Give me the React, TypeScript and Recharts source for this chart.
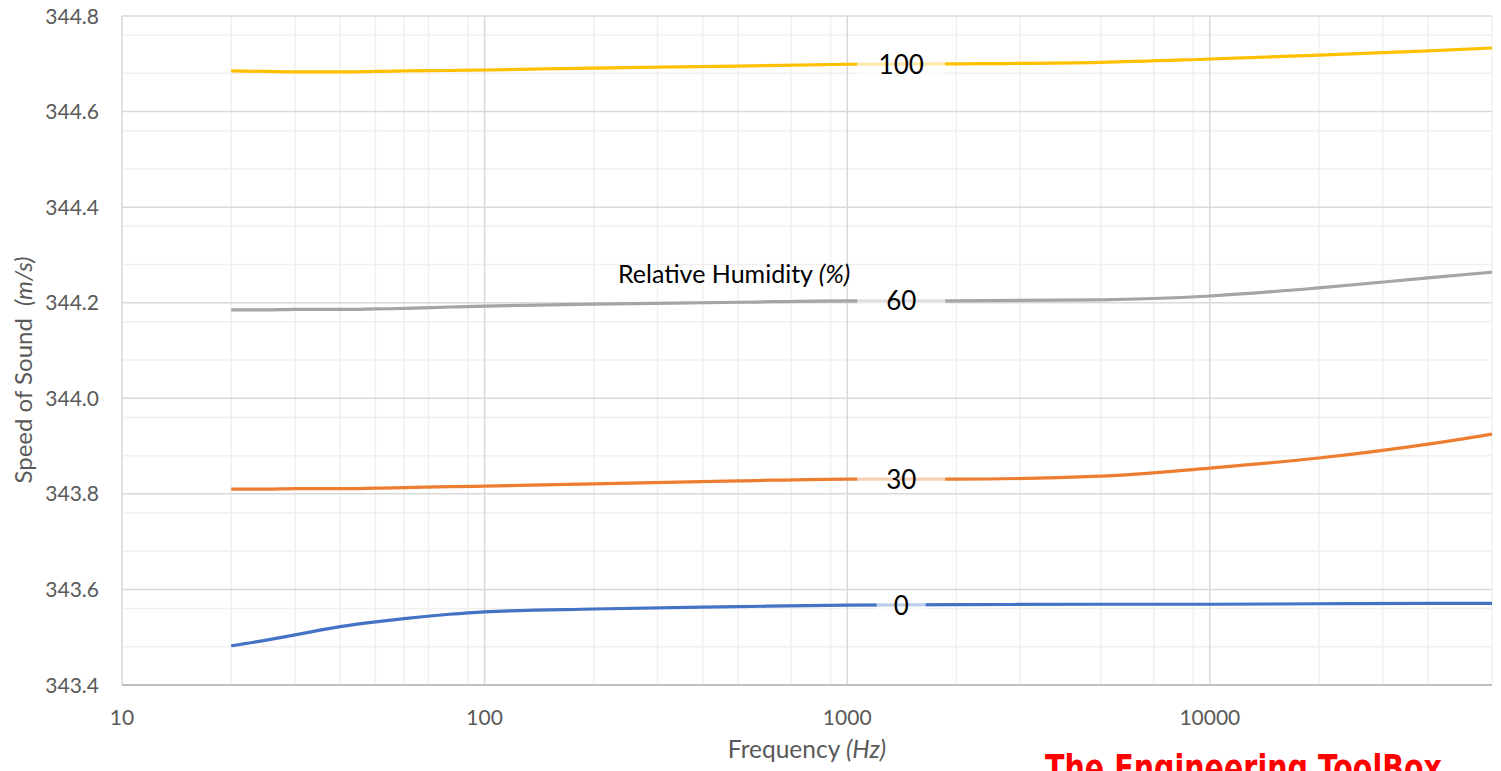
import { LineChart, Line, XAxis, YAxis, CartesianGrid } from 'recharts';

// Frequency (Hz) and speed of sound (m/s)
const freqs = [20, 25, 30, 40, 50, 60, 80, 100, 200, 500, 1000, 2000, 5000, 10000, 20000, 40000, 60000];
const rh0 = [343.482, 343.494, 343.505, 343.522, 343.532, 343.539, 343.548, 343.553, 343.559, 343.564, 343.567, 343.568, 343.569, 343.569, 343.57, 343.571, 343.571];
const rh30 = [343.81, 343.81, 343.811, 343.811, 343.812, 343.813, 343.815, 343.816, 343.821, 343.827, 343.831, 343.831, 343.837, 343.854, 343.875, 343.904, 343.925];
const rh60 = [344.185, 344.185, 344.186, 344.186, 344.187, 344.188, 344.191, 344.193, 344.197, 344.201, 344.204, 344.204, 344.206, 344.214, 344.231, 344.252, 344.264];
const rh100 = [344.685, 344.684, 344.683, 344.683, 344.684, 344.685, 344.686, 344.687, 344.691, 344.695, 344.699, 344.7, 344.703, 344.71, 344.718, 344.727, 344.733];

const xTicks = [10, 100, 1000, 10000];
const yTicks = [343.4, 343.6, 343.8, 344.0, 344.2, 344.4, 344.6, 344.8];
const labelFreq = 1000;

const data = freqs.map((f, i) => ({ f, rh0: rh0[i], rh30: rh30[i], rh60: rh60[i], rh100: rh100[i] }));

// minor grid values
const xMinor: number[] = [];
xTicks.forEach((d) => {
  for (let k = 2; k <= 9; k++) if (d * k <= 60000) xMinor.push(d * k);
});
const yMinor: number[] = [];
for (let i = 0; i < yTicks.length - 1; i++) {
  for (let k = 1; k < 5; k++) yMinor.push(+(yTicks[i] + k * 0.04).toFixed(2));
}

const FONT = 'Lato, "Open Sans", sans-serif';
const labelIndex = freqs.indexOf(labelFreq);

function XTick({ x, y, payload }: any) {
  return (
    <text x={x} y={y + 40} textAnchor="middle" fontSize={21} fill="#595959" fontFamily={FONT}>
      {payload.value}
    </text>
  );
}

function YTick({ x, y, payload }: any) {
  return (
    <text x={x - 23} y={y + 7.5} textAnchor="end" fontSize={21} fill="#595959" fontFamily={FONT}>
      {Number(payload.value).toFixed(1)}
    </text>
  );
}

function SeriesLabel({ x, y, index, text }: any) {
  if (index !== labelIndex) return null;
  const w = text.length > 1 ? 88 : 49;
  const cx = x + 54;
  return (
    <g>
      <rect x={cx - w / 2} y={y - 11} width={w} height={22} fill="#fff" fillOpacity={0.65} />
      <text x={cx} y={y + 9.5} textAnchor="middle" fontSize={26} fill="#000" fontFamily={FONT}>
        {text}
      </text>
    </g>
  );
}

export default function App() {
  return (
    <div style={{ width: 1501, height: 771, overflow: 'hidden', background: '#fff' }}>
      <style>{'body{margin:0}'}</style>
      <LineChart width={1501} height={771} data={data} margin={{ top: 16, right: 9, bottom: 0, left: 0 }}>
        <CartesianGrid stroke="#f0f0f0" strokeWidth={1.5} verticalValues={xMinor} horizontalValues={yMinor} />
        <CartesianGrid stroke="#d9d9d9" strokeWidth={1.5} verticalValues={xTicks} horizontalValues={yTicks} />
        <XAxis
          type="number"
          dataKey="f"
          scale="log"
          domain={[10, 60000]}
          ticks={xTicks}
          allowDataOverflow
          height={86}
          tickLine={false}
          tickSize={0}
          tickMargin={0}
          axisLine={{ stroke: '#bfbfbf', strokeWidth: 2 }}
          tick={<XTick />}
          label={({ viewBox }: any) => (
            <g fontFamily={FONT}>
              <text x={viewBox.x + viewBox.width / 2} y={viewBox.y + 73} textAnchor="middle" fontSize={24.5} fill="#595959">
                Frequency <tspan fontStyle="italic">(Hz)</tspan>
              </text>
              <text
                x={1045}
                y={781}
                fontSize={38}
                fontWeight="bold"
                fill="#ff0000"
                fontFamily='"DejaVu Sans Condensed", "DejaVu Sans", sans-serif'
                textLength={397}
                lengthAdjust="spacingAndGlyphs"
              >
                The Engineering ToolBox
              </text>
            </g>
          )}
        />
        <YAxis
          type="number"
          domain={[343.4, 344.8]}
          ticks={yTicks}
          width={122}
          axisLine={false}
          tickLine={false}
          tickSize={0}
          tickMargin={0}
          tick={<YTick />}
          label={() => (
            <g fontFamily={FONT}>
              <text x={32} y={370} transform="rotate(-90 32 370)" textAnchor="middle" fontSize={24} fill="#595959">
                Speed of Sound <tspan dx={6} fontStyle="italic">(m/s)</tspan>
              </text>
              <text x={618} y={283} fontSize={25} fill="#000">
                Relative Humidity <tspan fontStyle="italic">(%)</tspan>
              </text>
            </g>
          )}
        />
        <Line type="monotone" dataKey="rh0" stroke="#4472C4" strokeWidth={3.2} dot={false} isAnimationActive={false} label={<SeriesLabel text="0" />} />
        <Line type="monotone" dataKey="rh30" stroke="#ED7D31" strokeWidth={3.2} dot={false} isAnimationActive={false} label={<SeriesLabel text="30" />} />
        <Line type="monotone" dataKey="rh60" stroke="#A5A5A5" strokeWidth={3.2} dot={false} isAnimationActive={false} label={<SeriesLabel text="60" />} />
        <Line type="monotone" dataKey="rh100" stroke="#FFC000" strokeWidth={3.2} dot={false} isAnimationActive={false} label={<SeriesLabel text="100" />} />
      </LineChart>
    </div>
  );
}
